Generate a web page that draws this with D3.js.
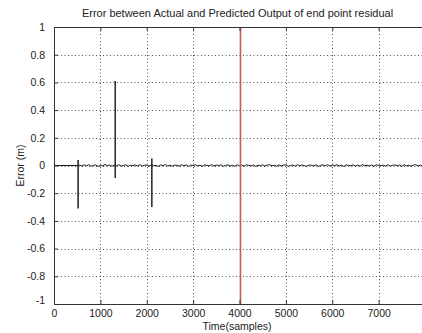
<!DOCTYPE html>
<html>
<head>
<meta charset="utf-8">
<script src="https://cdn.jsdelivr.net/npm/d3@7"></script>
<style>
  html, body { margin: 0; padding: 0; background: #fff; }
  svg { display: block; }
  text { font-family: "Liberation Sans", Arial, sans-serif; fill: #222; }
</style>
</head>
<body>
<svg id="chart" width="422" height="333"></svg>
<script>
// Residual error samples (m), one every 50 samples after the first disturbance
const noiseStart = 550;
const noiseStep = 50;
const noiseValues = [
  0.003,-0.004,0.005,-0.002,0.006,-0.005,0.001,0.004,-0.006,0.002,
  -0.003,0.007,-0.001,0.004,-0.005,0.003,-0.002,0.006,-0.004,0.001,
  0.005,-0.006,0.002,-0.001,0.004,-0.003,0.006,-0.005,0.002,0.003,
  -0.004,0.005,-0.002,0.001,-0.006,0.004,-0.001,0.007,-0.003,0.002,
  -0.005,0.003,0.001,-0.004,0.006,-0.002,0.004,-0.006,0.003,-0.001,
  0.005,-0.003,0.002,-0.005,0.004,0.001,-0.002,0.006,-0.004,0.003,
  -0.001,0.005,-0.006,0.002,0.004,-0.003,0.001,-0.005,0.006,-0.002,
  0.003,-0.004,0.005,0.001,-0.003,0.004,-0.006,0.002,-0.001,0.005,
  -0.004,0.003,0.006,-0.002,0.001,-0.005,0.004,-0.003,0.002,0.005,
  -0.006,0.001,0.003,-0.004,0.006,-0.002,0.004,-0.001,-0.005,0.003,
  0.002,-0.003,0.005,-0.006,0.001,0.004,-0.002,0.006,-0.004,0.003,
  -0.001,0.005,-0.003,0.002,-0.006,0.004,0.001,-0.002,0.005,-0.004,
  0.003,-0.005,0.006,-0.001,0.002,-0.003,0.004,-0.006,0.005,0.001,
  -0.002,0.003,-0.004,0.006,-0.005,0.002,0.004,-0.001,0.003,-0.006,
  0.005,-0.002,0.001,-0.004,0.003,0.006,-0.003,0.002,-0.005,0.004
];

// Spikes in the error: sample index, peak and trough values
const spikeTimes = [520, 1320, 2110];
const spikeHigh  = [0.04, 0.61, 0.05];
const spikeLow   = [-0.31, -0.09, -0.30];

// Switching instant marked in red
const markerTime = 4000;

const xTicks = [0, 1000, 2000, 3000, 4000, 5000, 6000, 7000];
const yTicks = [-1, -0.8, -0.6, -0.4, -0.2, 0, 0.2, 0.4, 0.6, 0.8, 1];

const titleText = "Error between Actual and Predicted Output of end point residual";
const xLabel = "Time(samples)";
const yLabel = "Error (m)";

// Assemble the error trace: zero until the first spike, then spikes and noise
const series = [[0, 0]];
const events = [];
spikeTimes.forEach((t, i) => events.push({ t, kind: "spike", i }));
noiseValues.forEach((v, i) => events.push({ t: noiseStart + i * noiseStep, kind: "noise", v }));
events.sort((a, b) => a.t - b.t);
let last = 0;
events.forEach(e => {
  if (e.kind === "spike") {
    series.push([e.t, last]);
    series.push([e.t, spikeHigh[e.i]]);
    series.push([e.t, spikeLow[e.i]]);
    series.push([e.t, last]);
  } else {
    series.push([e.t, e.v]);
    last = e.v;
  }
});

const margin = { left: 54, top: 27, right: -3, bottom: 29 };
const W = 422, H = 333;
const svg = d3.select("#chart");

const x = d3.scaleLinear().domain([0, 8000]).range([margin.left, W - margin.right]);
const y = d3.scaleLinear().domain([-1, 1]).range([H - margin.bottom, margin.top]);

const x0 = x.range()[0], x1 = x.range()[1];
const y0 = y.range()[0], y1 = y.range()[1];

// Dotted grid
const grid = svg.append("g").attr("stroke", "#555").attr("stroke-width", 1)
  .attr("stroke-dasharray", "1,2.5");
grid.selectAll("line.v").data(xTicks.filter(d => d > 0)).join("line")
  .attr("x1", d => Math.round(x(d)) + 0.5).attr("x2", d => Math.round(x(d)) + 0.5)
  .attr("y1", y1).attr("y2", y0);
grid.selectAll("line.h").data(yTicks.filter(d => d > -1 && d < 1)).join("line")
  .attr("class", "h")
  .attr("x1", x0).attr("x2", x1)
  .attr("y1", d => Math.round(y(d)) + 0.5).attr("y2", d => Math.round(y(d)) + 0.5);

// Error trace
const line = d3.line().x(d => x(d[0])).y(d => y(d[1]));
svg.append("path").datum(series)
  .attr("fill", "none").attr("stroke", "#1a1a1a").attr("stroke-width", 1)
  .attr("d", line);

// Marker line
const mx = Math.round(x(markerTime)) + 0.5;
svg.append("line")
  .attr("x1", mx).attr("x2", mx)
  .attr("y1", y1).attr("y2", y0)
  .attr("stroke", "#bd625a").attr("stroke-width", 1.6);

// Axes (MATLAB-style inward ticks on all sides)
const axisStyle = g => {
  g.select(".domain").attr("stroke", "#333");
  g.selectAll(".tick line").attr("stroke", "#333");
  g.selectAll("text").attr("fill", "#2a2a2a")
    .style("font-family", '"Liberation Sans", Arial, sans-serif').style("font-size", "10.5px");
};

svg.append("g").attr("transform", `translate(0,${y0})`)
  .call(d3.axisBottom(x).tickValues(xTicks).tickFormat(d => String(d))
    .tickSizeInner(-4).tickSizeOuter(0).tickPadding(6))
  .call(axisStyle);

svg.append("g").attr("transform", `translate(0,${y1})`)
  .call(d3.axisTop(x).tickValues(xTicks).tickFormat("")
    .tickSizeInner(-4).tickSizeOuter(0))
  .call(axisStyle);

svg.append("g").attr("transform", `translate(${x0},0)`)
  .call(d3.axisLeft(y).tickValues(yTicks).tickFormat(d => String(+d.toFixed(1)))
    .tickSizeInner(-4).tickSizeOuter(0).tickPadding(9))
  .call(axisStyle)
  .call(g => g.selectAll(".tick text").filter(d => d === -1).attr("dy", "-0.05em"));

// Title and axis labels
svg.append("text").attr("x", (x0 + x1) / 2 - 2).attr("y", 17)
  .attr("text-anchor", "middle").style("font-size", "11px").text(titleText);
svg.append("text").attr("x", 237).attr("y", 330)
  .attr("text-anchor", "middle").style("font-size", "10.5px").text(xLabel);
svg.append("text").attr("transform", `translate(24,${(y0 + y1) / 2}) rotate(-90)`)
  .attr("text-anchor", "middle").style("font-size", "10.5px").text(yLabel);
</script>
</body>
</html>
